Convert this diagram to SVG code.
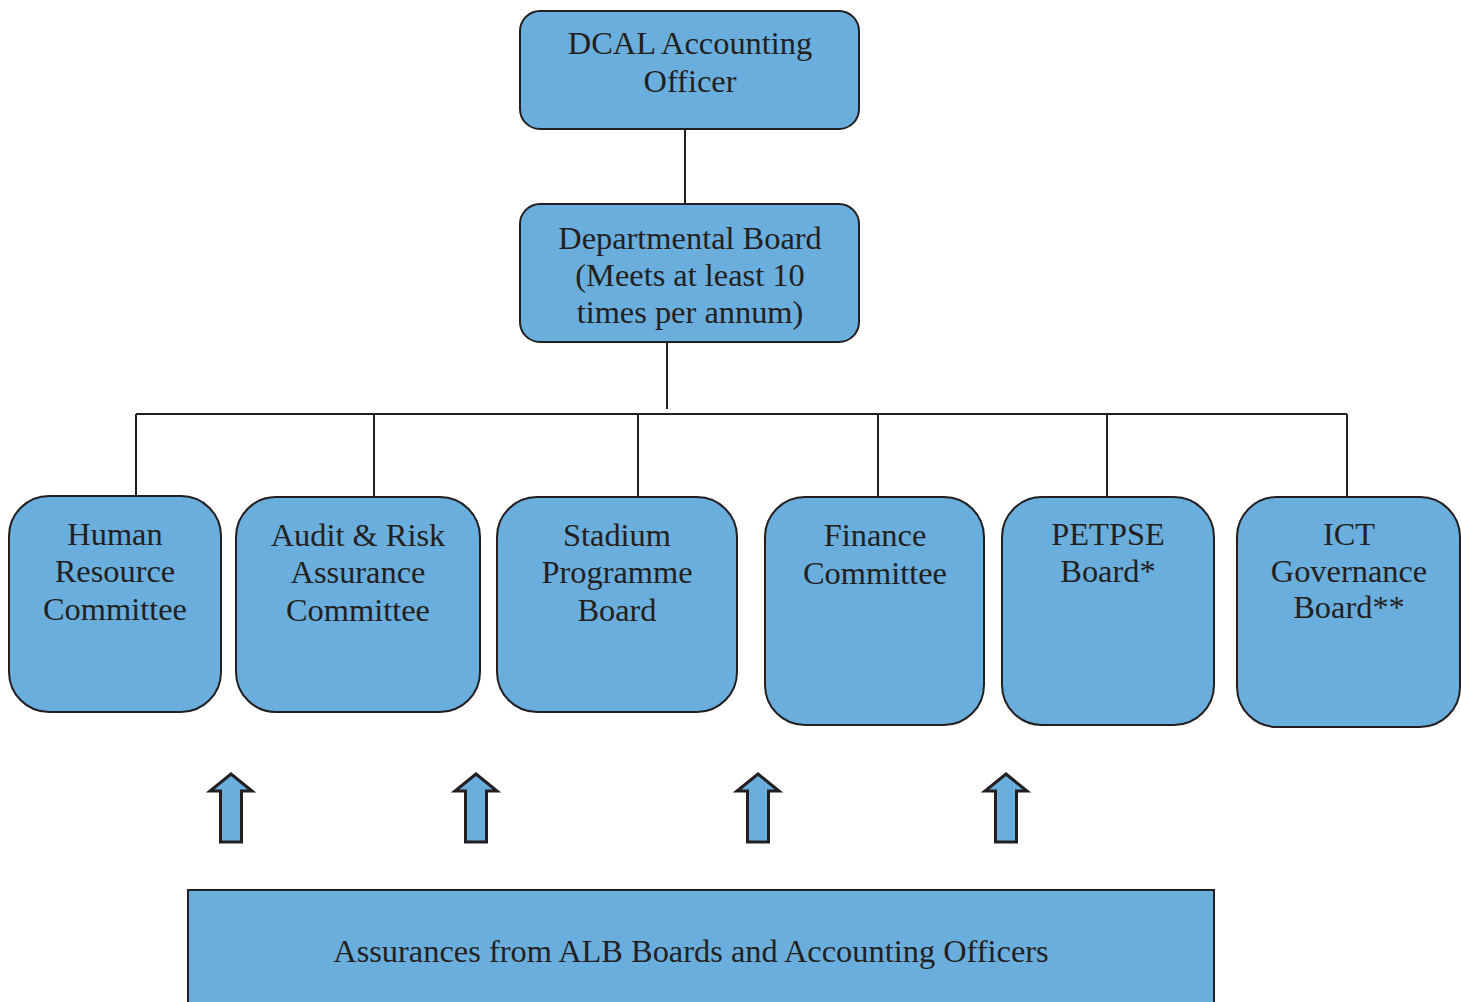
<svg xmlns="http://www.w3.org/2000/svg" width="1461" height="1002" viewBox="0 0 1461 1002">
  <style>
    .box { fill: #69aedc; stroke: #231f20; stroke-width: 2; }
    .lbl { font-family: "Liberation Serif", "Times New Roman", serif; font-size: 32.4px; fill: #231f20; text-anchor: middle; }
    .wire { stroke: #231f20; stroke-width: 2; fill: none; }
    .up { fill: #69aedc; stroke: #231f20; stroke-width: 3; stroke-linejoin: miter; }
  </style>
  <defs>
    <!-- upward block arrow, tip at origin -->
    <path id="uparrow" d="M0,0 L21,17 L10.5,17 L10.5,68 L-10.5,68 L-10.5,17 L-21,17 Z"/>
  </defs>
  <rect width="1461" height="1002" fill="#ffffff"/>

  <g id="connectors">
    <path class="wire" d="M685,129 V204"/>
    <path class="wire" d="M667,342 V409"/>
    <path class="wire" d="M136,414 H1347"/>
    <path class="wire" d="M136,414 V496"/>
    <path class="wire" d="M374,414 V497"/>
    <path class="wire" d="M638,414 V497"/>
    <path class="wire" d="M878,414 V497"/>
    <path class="wire" d="M1107,414 V497"/>
    <path class="wire" d="M1347,414 V497"/>
  </g>

  <g id="accounting-officer">
    <rect class="box" x="520" y="11" width="339" height="118" rx="20"/>
    <text class="lbl" x="690" y="54">DCAL Accounting</text>
    <text class="lbl" x="690" y="92">Officer</text>
  </g>

  <g id="departmental-board">
    <rect class="box" x="520" y="204" width="339" height="138" rx="20"/>
    <text class="lbl" x="690" y="249">Departmental Board</text>
    <text class="lbl" x="690" y="286">(Meets at least 10</text>
    <text class="lbl" x="690" y="323">times per annum)</text>
  </g>

  <g id="hr-committee">
    <rect class="box" x="9" y="496" width="212" height="216" rx="40"/>
    <text class="lbl" x="115" y="545">Human</text>
    <text class="lbl" x="115" y="582">Resource</text>
    <text class="lbl" x="115" y="620">Committee</text>
  </g>

  <g id="audit-risk-committee">
    <rect class="box" x="236" y="497" width="244" height="215" rx="40"/>
    <text class="lbl" x="358" y="546">Audit &amp; Risk</text>
    <text class="lbl" x="358" y="583">Assurance</text>
    <text class="lbl" x="358" y="621">Committee</text>
  </g>

  <g id="stadium-board">
    <rect class="box" x="497" y="497" width="240" height="215" rx="40"/>
    <text class="lbl" x="617" y="546">Stadium</text>
    <text class="lbl" x="617" y="583">Programme</text>
    <text class="lbl" x="617" y="621">Board</text>
  </g>

  <g id="finance-committee">
    <rect class="box" x="765" y="497" width="219" height="228" rx="40"/>
    <text class="lbl" x="875" y="546">Finance</text>
    <text class="lbl" x="875" y="584">Committee</text>
  </g>

  <g id="petpse-board">
    <rect class="box" x="1002" y="497" width="212" height="228" rx="40"/>
    <text class="lbl" x="1108" y="545">PETPSE</text>
    <text class="lbl" x="1108" y="582">Board*</text>
  </g>

  <g id="ict-board">
    <rect class="box" x="1237" y="497" width="223" height="230" rx="40"/>
    <text class="lbl" x="1349" y="545">ICT</text>
    <text class="lbl" x="1349" y="582">Governance</text>
    <text class="lbl" x="1349" y="618">Board**</text>
  </g>

  <g id="assurance-arrows">
    <use href="#uparrow" class="up" x="231" y="774"/>
    <use href="#uparrow" class="up" x="476" y="774"/>
    <use href="#uparrow" class="up" x="758" y="774"/>
    <use href="#uparrow" class="up" x="1006" y="774"/>
  </g>

  <g id="alb-assurances">
    <rect class="box" x="188" y="890" width="1026" height="130"/>
    <text class="lbl" x="691" y="962">Assurances from ALB Boards and Accounting Officers</text>
  </g>
</svg>
